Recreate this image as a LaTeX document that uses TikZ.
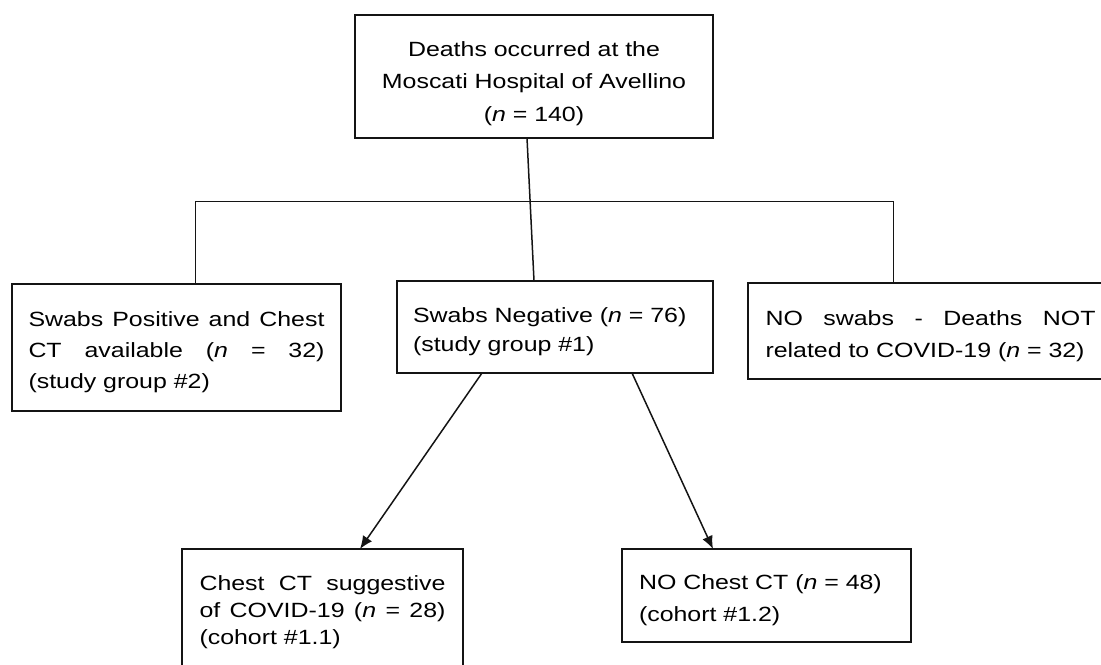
\documentclass[tikz,border=0pt]{standalone}
\usepackage{fontspec}
\setmainfont[FakeStretch=1.21]{Liberation Sans}
\usepackage{tikz}
\usetikzlibrary{arrows.meta,positioning}
\usepackage{xcolor}
\definecolor{lineblack}{RGB}{20,20,20}
\newcommand{\jline}[2]{{\spaceskip=0.33em plus 1fil\makebox[#1][s]{#2}}}

\begin{document}
\begin{tikzpicture}[
  x=0.5pt, y=-0.5pt,
  box/.style={rectangle, draw=lineblack, line width=1pt, outer sep=0pt, inner ysep=0pt, align=left},
  txt/.style={font=\fontsize{10.3pt}{#1}\selectfont},
  push/.style={execute at begin node={\rule{0pt}{#1}}},
  thinline/.style={draw=lineblack, line width=0.5pt},
  conn/.style={draw=lineblack, line width=0.75pt},
  arr/.style={-{Latex[length=6.5pt,width=5.5pt]}, draw=lineblack, line width=0.75pt}
]
\useasboundingbox (0,0) rectangle (1101,664);

\node[box, txt=16.25pt, push=14.5pt, align=center, text width=155pt, inner xsep=12pt, minimum height=61.5pt] (deaths) at (534,76.5)
  {Deaths occurred at the\\ Moscati Hospital of Avellino\\ (\textit{n} = 140)};
\node[box, txt=14.5pt, push=12.5pt, text width=142pt, inner xsep=8pt, minimum height=46pt, below=71.5pt of deaths, xshift=10.5pt] (swabneg)
  {Swabs Negative (\textit{n} = 76)\\ (study group \#1)};
\node[box, txt=15.5pt, push=12.5pt, text width=148pt, inner xsep=8.25pt, minimum height=63.5pt, left=28pt of swabneg, yshift=-10.25pt] (swabpos)
  {\jline{148pt}{Swabs Positive and Chest}\\ \jline{148pt}{CT available (\textit{n} = 32)}\\ (study group \#2)};
\node[box, txt=16pt, push=12.5pt, text width=165pt, inner xsep=8.75pt, minimum height=48pt, right=17.5pt of swabneg, yshift=-2pt] (noswab)
  {\jline{165pt}{NO swabs - Deaths NOT}\\ related to COVID-19 (\textit{n} = 32)};
\node[box, txt=13.5pt, push=12.5pt, text width=123pt, inner xsep=8.75pt, minimum height=58.5pt, below=88pt of swabneg, xshift=-116.25pt] (ctsugg)
  {\jline{123pt}{Chest CT suggestive}\\ \jline{123pt}{of COVID-19 (\textit{n} = 28)}\\ (cohort \#1.1)};
\node[box, txt=16pt, push=12.5pt, text width=127.5pt, inner xsep=8.5pt, minimum height=46.5pt, below=88pt of swabneg, xshift=105.75pt] (noct)
  {NO Chest CT (\textit{n} = 48)\\ (cohort \#1.2)};

\coordinate (hl) at (195,201);
\coordinate (hr) at (893,201);

\draw[conn] ([xshift=-3.5pt]deaths.south) -- (deaths.south |- swabneg.north);
\draw[thinline] (swabpos.north -| hl) -- (hl) -- (hr) -- (noswab.north -| hr);
\draw[arr] ([xshift=-36.5pt]swabneg.south) -- ([xshift=18.75pt]ctsugg.north);
\draw[arr] ([xshift=38.5pt]swabneg.south) -- ([xshift=-26.75pt]noct.north);
\end{tikzpicture}
\end{document}
